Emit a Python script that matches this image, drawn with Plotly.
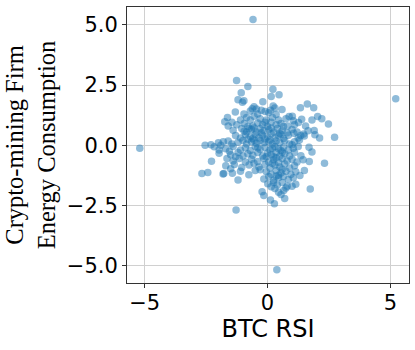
import plotly.graph_objects as go

# (x, y) points, grouped in horizontal bands
btc_rsi = [
    -0.59, -1.26,
    -0.80, 0.22, -1.07, 0.15, 0.47,
    -1.20, -0.96, -0.19, -1.02, 5.22,
    -0.55, 0.23, 1.62, 1.88, 1.34, -0.62, 0.30, -0.45,
    0.59, -1.31, -0.96, -0.10, 0.05, -0.70, -0.40, 0.35, -0.25, 0.12,
    -1.63, 0.88, 1.01, 1.39, 1.81, 2.04, 2.21, -0.85, -0.55, -0.30, -0.05, 0.20, 0.45, -1.10, 0.75, -0.70, 1.05,
    -1.74, 1.26, 2.48, -1.45, -1.25, -0.95, -0.60, -0.40, -0.20, 0.00, 0.15, 0.35, 0.55, 0.82, 1.10, -0.80, -0.10, 0.65, 1.55, -1.60,
    1.90, -1.40, -1.05, -0.85, -0.65, -0.45, -0.30, -0.15, 0.05, 0.25, 0.40, 0.60, 0.80, 1.00, 1.20, -0.55, -0.25, 0.15, -0.95, 1.65, 0.50, -0.75,
    1.93, 2.12, 2.73, 1.47, 1.50, 1.07, -1.30, -1.10, -0.90, -0.70, -0.50, -0.35, -0.20, 0.00, 0.15, 0.30, 0.45, 0.65, 0.85, 1.25, -0.60, -0.10, 0.55, -0.80, 1.35,
    -2.54, -2.00, -1.80, -1.60, -1.45, -1.20, -1.00, -0.85, -0.65, -0.45, -0.30, -0.15, 0.05, 0.20, 0.35, 0.50, 0.70, 0.90, 1.10, 1.30, -2.30, -1.90, 0.10, -0.55, 1.00,
    -5.20, -2.17, 1.69, -1.97, -1.70, -1.40, -1.10, -0.90, -0.70, -0.50, -0.30, -0.10, 0.10, 0.30, 0.45, 0.65, 0.85, 1.05, 1.25, -1.55, 0.20, -0.40, 0.55,
    1.81, 1.36, -1.97, -1.50, -1.20, -1.00, -0.80, -0.60, -0.40, -0.20, 0.00, 0.15, 0.35, 0.50, 0.70, 0.90, 1.10, -1.30, 0.25, 0.60, -0.05,
    1.70, 2.32, -2.28, -1.65, -1.40, -1.15, -0.90, -0.65, -0.40, -0.15, 0.05, 0.25, 0.45, 0.60, 0.80, 1.00, 1.20, 1.45, 0.35, -0.55,
    -1.70, -1.35, -1.05, -0.75, -0.35, -0.10, 0.10, 0.30, 0.50, 0.70, 0.90, 1.10, 0.20, -1.50, 0.60,
    -2.67, -2.43, -1.81, -1.78, -1.43, -0.76, 1.50, -1.10, -0.50, -0.05, 0.15, 0.35, 0.55, 0.75, 0.95, -0.30, 0.45, 1.15,
    -1.20, 1.32, 0.05, 0.25, 0.45, 0.65, 0.85, 1.05, -0.15, 0.35,
    1.15, 1.00, 0.01, 0.25, 0.40, 0.60, 0.80, 0.15,
    1.74, 0.66, -0.22, 0.30, 0.45, 0.75,
    0.70, 0.28, 0.12, -0.15, 0.55,
    -1.28, 0.38,
]
energy = [
    5.22, 2.69,
    2.44, 2.32, 2.18, 2.02, 2.10,
    1.89, 1.85, 1.81, 1.78, 1.93,
    1.60, 1.63, 1.71, 1.56, 1.56, 1.52, 1.55, 1.50,
    1.48, 1.38, 1.30, 1.40, 1.35, 1.42, 1.30, 1.28, 1.45, 1.45,
    1.15, 1.19, 1.20, 1.08, 1.05, 1.19, 1.10, 1.15, 1.20, 1.10, 1.05, 1.15, 1.05, 1.05, 1.10, 1.05, 1.02,
    0.98, 0.94, 0.88, 0.95, 0.85, 0.90, 0.80, 0.92, 0.85, 0.78, 0.95, 0.85, 0.90, 0.80, 0.85, 0.78, 0.95, 0.78, 0.80, 0.80,
    0.61, 0.62, 0.70, 0.55, 0.65, 0.55, 0.70, 0.60, 0.65, 0.55, 0.70, 0.60, 0.52, 0.65, 0.55, 0.72, 0.52, 0.72, 0.58, 0.60, 0.50, 0.68,
    0.44, 0.30, 0.33, 0.47, 0.38, 0.50, 0.40, 0.30, 0.45, 0.35, 0.45, 0.30, 0.42, 0.35, 0.48, 0.30, 0.40, 0.28, 0.42, 0.30, 0.28, 0.26, 0.45, 0.25, 0.40,
    0.00, 0.10, 0.15, 0.18, 0.05, 0.12, 0.20, 0.05, 0.15, 0.08, 0.20, 0.10, 0.15, 0.05, 0.18, 0.10, 0.20, 0.05, 0.15, 0.22, 0.02, 0.00, 0.22, 0.22, 0.02,
    -0.12, -0.06, -0.08, -0.20, -0.15, -0.05, -0.20, -0.10, -0.22, -0.05, -0.18, -0.08, -0.20, -0.05, -0.15, -0.08, -0.20, -0.12, -0.05, -0.25, -0.12, -0.10, -0.22,
    -0.28, -0.44, -0.33, -0.40, -0.30, -0.45, -0.35, -0.42, -0.30, -0.45, -0.32, -0.40, -0.30, -0.45, -0.35, -0.45, -0.30, -0.48, -0.48, -0.28, -0.48,
    -0.68, -0.75, -0.66, -0.55, -0.65, -0.55, -0.70, -0.58, -0.68, -0.55, -0.70, -0.60, -0.72, -0.55, -0.65, -0.58, -0.70, -0.60, -0.52, -0.75,
    -0.85, -0.80, -0.92, -0.82, -0.90, -0.80, -0.95, -0.82, -0.90, -0.78, -0.95, -0.85, -0.76, -0.98, -1.00,
    -1.17, -1.13, -1.19, -1.17, -1.16, -1.23, -1.05, -1.08, -1.05, -1.10, -1.20, -1.05, -1.15, -1.08, -1.22, -1.02, -1.25, -1.10,
    -1.44, -1.26, -1.30, -1.45, -1.35, -1.30, -1.42, -1.35, -1.40, -1.28,
    -1.62, -1.70, -1.60, -1.55, -1.65, -1.55, -1.70, -1.72,
    -1.82, -1.88, -1.93, -1.80, -1.95, -1.78,
    -2.21, -2.43, -2.27, -2.09, -2.05,
    -2.69, -5.17,
]

x_ticks = [-5, 0, 5]
y_ticks = [-5.0, -2.5, 0.0, 2.5, 5.0]

fig = go.Figure(go.Scatter(
    x=btc_rsi, y=energy, mode="markers",
    marker=dict(color="#1f77b4", size=7.5, opacity=0.5, line=dict(width=0)),
    showlegend=False,
))

axis_common = dict(
    showline=True, linecolor="#333333", linewidth=1, mirror=True,
    showgrid=True, gridcolor="#d0d0d0", gridwidth=1,
    zeroline=False, ticks="outside", ticklen=4, tickcolor="#333333",
    tickfont=dict(family="DejaVu Sans", size=21, color="#000000"),
)

fig.update_layout(
    width=415, height=350,
    margin=dict(l=127, r=6, t=7, b=67),
    paper_bgcolor="white", plot_bgcolor="white",
    xaxis=dict(range=[-5.72, 5.76], tickvals=x_ticks, ticklabelstandoff=-3,
               title=dict(text="BTC RSI", font=dict(family="DejaVu Sans", size=24, color="#000000"), standoff=0),
               **axis_common),
    yaxis=dict(range=[-5.72, 5.74], tickvals=y_ticks, tickformat=".1f",
               title=dict(text="Crypto-mining Firm<br>Energy Consumption",
                          font=dict(family="Liberation Serif", size=24.5, color="#000000"), standoff=4),
               **axis_common),
)

fig.write_html("out.html", config={"displayModeBar": False},
               post_script="document.body.style.margin='0';")
